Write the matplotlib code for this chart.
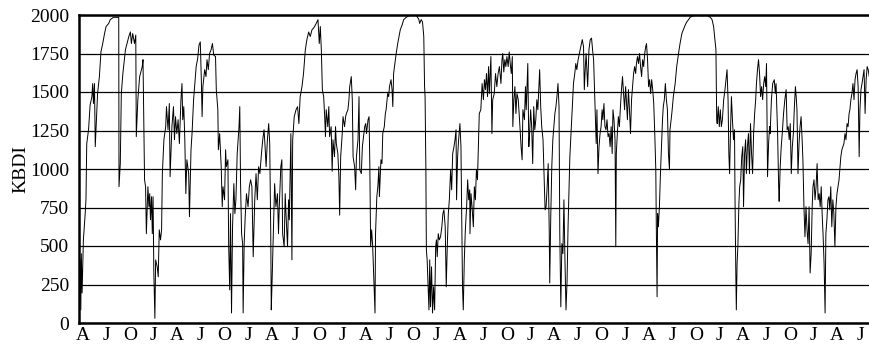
import matplotlib
matplotlib.use('Agg')
import matplotlib.pyplot as plt
import pandas as pd

# KBDI readings (day since start, index value)
start = pd.Timestamp('1998-03-17')
end_day = 3065

seg1 = [(4,410),(7,85),(9,450),(12,195),(17,540),(24,710),(27,800),(30,1165),(37,1255),(43,1415),
        (50,1470),(53,1555),(56,1425),(60,1555),(63,1145),(66,1255),(72,1490),(79,1600),(85,1760),(92,1815),
        (99,1880),(105,1925),(115,1945),(121,1970),(134,1985),(154,1985),(155,885),(160,1035),(164,1490),(170,1620),
        (180,1775),(186,1815),(193,1860),(199,1890),(203,1815),(208,1880),(215,1815),(220,1870),(222,1210),(228,1450),
        (235,1600),(245,1665),(248,1710),(254,930),(258,885),(261,580),(267,885),(271,755),(274,840),(277,670),
        (281,820),(284,580),(287,820),(290,325),(294,30),(297,410),(303,365),(307,300),(311,605),(316,540),
        (320,605),(323,970),(329,1190),(336,1275),(339,1405),(345,1255),(350,1425)]

seg2 = [(353,950),(360,1275),(366,1405),(370,1190),(374,1340),(379,1230),(384,1320),(389,1165),(395,1450),(399,1555),
        (402,1320),(406,1405),(410,1190),(414,840),(418,1060),(425,970),(428,690),(434,1125),(438,1230),(444,1450),
        (449,1555),(454,1665),(460,1720),(465,1805),(470,1825),(474,1580),(477,1340),(480,1535),(487,1645),(492,1600),
        (496,1710),(501,1645),(506,1750),(512,1775),(517,1815),(522,1740),(529,1730),(532,1515),(538,1385),(540,1125),
        (545,1230),(551,1015),(555,755),(558,885),(564,800),(568,1125),(571,1015),(577,1060),(580,495),(584,215),
        (587,710),(591,65),(595,625),(600,905),(604,710),(608,800),(613,1100),(620,1275),(623,1405),(626,905),
        (630,580),(634,515),(636,65),(640,515),(644,690),(649,840),(655,755),(660,885),(665,930),(670,885),
        (675,430),(681,800),(686,970),(691,800),(696,1015),(701,970),(707,1100),(712,1190),(717,1255),(721,1145),
        (725,1015),(730,1190),(735,1295),(739,1165)]

seg3 = [(743,580),(745,85),(748,260),(753,580),(758,905),(763,755),(769,840),(773,580),(776,755),(782,1015),
        (786,1060),(789,580),(795,495),(799,840),(802,710),(808,495),(812,800),(815,670),(821,1230),(825,410),
        (828,1190),(834,1340),(841,1385),(847,1405),(852,1295),(857,1470),(864,1535),(870,1620),(877,1775),(883,1840),
        (890,1890),(896,1860),(903,1905),(909,1915),(916,1935),(922,1955),(926,1970),(931,1815),(935,1925),(939,1775),
        (943,1515),(948,1470),(952,1340),(955,1210),(958,1385),(964,1275),(968,1405),(971,1210),(977,1275),(981,985),
        (984,1190),(990,1080),(994,1275),(997,1165),(1003,1100),(1007,950),(1010,700),(1014,1080),(1020,1230),(1023,1340),
        (1029,1275),(1033,1340),(1036,1360),(1042,1385),(1046,1450),(1049,1535),(1055,1600),(1059,1450),(1062,1080),(1068,1015),
        (1072,865),(1075,1080),(1081,1190),(1085,1470),(1088,995),(1094,970),(1098,1145),(1101,1190),(1107,1275),(1111,1295),
        (1114,1230),(1120,1320),(1124,1340),(1127,1015),(1130,495),(1134,605),(1138,495),(1143,260),(1147,65)]

seg4 = [(1149,580),(1154,820),(1158,885),(1162,1015),(1164,820),(1170,1060),(1174,1035),(1177,1230),(1183,1275),(1187,1360),
        (1190,1385),(1196,1490),(1200,1470),(1203,1535),(1209,1580),(1213,1515),(1216,1405),(1219,1620),(1224,1685),(1229,1750),
        (1235,1815),(1240,1860),(1245,1905),(1252,1935),(1258,1970),(1268,1985),(1278,1995),(1291,2000),(1304,2000),(1310,1990),
        (1317,1970),(1320,1945),(1326,1970),(1331,1955),(1336,1860),(1339,1535),(1341,1470),(1344,1015),(1346,475),(1349,410),
        (1353,235),(1356,85),(1359,410),(1362,105),(1366,365),(1370,65),(1374,235),(1378,85),(1382,495),(1385,540),
        (1388,430),(1392,580),(1396,540),(1401,560),(1406,625),(1410,710),(1414,735),(1419,625),(1423,235),(1427,495),
        (1431,710),(1435,800),(1440,995),(1444,865),(1448,1100),(1453,1145),(1457,1190),(1461,1255),(1463,800),(1467,1080),
        (1471,1190),(1476,1295),(1480,1145),(1486,235),(1489,85),(1493,410),(1497,605),(1502,755),(1506,930),(1510,800),
        (1514,865)]

seg5 = [(1515,580),(1519,840),(1523,755),(1528,625),(1532,885),(1536,800),(1540,995),(1544,930),(1548,1190),(1551,1360),
        (1557,1385),(1562,1555),(1567,1450),(1571,1580),(1575,1515),(1579,1620),(1583,1470),(1587,1665),(1590,1490),(1596,1730),
        (1600,1230),(1603,1450),(1609,1490),(1614,1620),(1619,1535),(1624,1620),(1629,1665),(1635,1555),(1639,1710),(1642,1750),
        (1646,1630),(1650,1710),(1654,1665),(1658,1730),(1663,1665),(1667,1760),(1671,1685),(1675,1620),(1679,1730),(1681,1275),
        (1685,1450),(1689,1535),(1693,1360),(1697,1490),(1702,1450),(1707,1320),(1713,1145),(1717,1060),(1720,1385),(1726,1320),
        (1730,1535),(1733,1385),(1739,1685),(1743,1145),(1746,1230),(1750,1385),(1754,1275),(1758,1035),(1762,1405),(1766,1255),
        (1770,1320),(1774,1450),(1778,1385),(1782,1535),(1785,1645),(1789,1405),(1793,1275),(1798,1190),(1802,970),(1806,735),
        (1810,755),(1814,885),(1818,1035),(1822,605),(1824,260),(1828,690),(1832,1015),(1836,1190),(1840,1275),(1844,1360),
        (1848,1405),(1852,1470),(1856,1555),(1860,1405),(1863,580),(1867,105),(1871,515),(1875,450),(1879,800),(1883,410),
        (1887,85),(1891,260),(1895,625),(1899,885),(1902,1080)]

seg6 = [(1907,1255),(1912,1425),(1916,1555),(1921,1620),(1925,1685),(1929,1645),(1934,1710),(1939,1750),(1945,1795),(1950,1840),
        (1955,1795),(1958,1515),(1962,1665),(1965,1750),(1971,1535),(1976,1775),(1981,1840),(1986,1850),(1990,1775),(1994,1710),
        (1998,1490),(2002,1275),(2004,1165),(2007,1385),(2011,970),(2015,1145),(2019,1230),(2023,1275),(2027,1385),(2030,1320),
        (2034,1425),(2038,1275),(2042,1255),(2046,1320),(2050,1210),(2054,1230),(2058,1145),(2062,1275),(2066,1100),(2069,1385),
        (2073,1320),(2077,1190),(2080,495),(2082,1100),(2086,1230),(2090,1340),(2094,1275),(2098,1405),(2102,1515),(2106,1600),
        (2110,1490),(2114,1385),(2118,1535),(2121,1450),(2125,1320),(2129,1515),(2133,1385),(2137,1230),(2141,1450),(2145,1535),
        (2149,1620),(2153,1665),(2157,1620),(2160,1685),(2164,1730),(2168,1685),(2172,1750),(2176,1665),(2180,1600),(2184,1710),
        (2188,1665),(2192,1750),(2196,1795),(2199,1815),(2203,1710),(2207,1535),(2211,1580),(2215,1490),(2219,1580),(2223,1515),
        (2227,1425),(2231,1230),(2235,995),(2237,625),(2240,170),(2242,710),(2245,625),(2249,755),(2253,970),(2257,1145),
        (2261,1320),(2264,1405),(2268,1450),(2272,1555),(2276,1450),(2280,1385),(2284,1100),(2288,995)]

seg7 = [(2290,1255),(2297,1360),(2303,1470),(2310,1555),(2316,1665),(2323,1750),(2329,1815),(2336,1880),(2342,1905),(2349,1935),
        (2355,1955),(2362,1970),(2368,1985),(2381,1995),(2394,2000),(2414,1995),(2427,2000),(2433,2000),(2440,1990),(2446,1985),
        (2453,1970),(2459,1925),(2464,1840),(2468,1775),(2471,1320),(2473,1295),(2477,1405),(2481,1275),(2485,1385),(2489,1275),
        (2493,1320),(2498,1450),(2503,1515),(2507,1580),(2511,1645),(2515,1450),(2518,1100),(2521,970),(2524,1210),(2528,1470),
        (2532,1320),(2536,1190),(2540,1255),(2542,800),(2545,325),(2547,85),(2550,390),(2553,495),(2557,775),(2560,885),
        (2564,930),(2568,1080),(2572,1145),(2575,755),(2579,1100),(2583,1190),(2586,970),(2590,1145),(2594,1230),(2598,970),
        (2602,1295),(2606,1100),(2610,970),(2614,1230),(2618,1360),(2622,1450),(2625,1555),(2629,1645),(2633,1710),(2637,1620),
        (2641,1470),(2645,1535),(2649,1450),(2653,1555),(2657,1600),(2661,1535),(2664,1685),(2668,950),(2672,1165),(2676,1275)]

seg8 = [(2678,1230),(2683,1450),(2688,1555),(2694,1580),(2698,1490),(2701,1555),(2707,1230),(2711,885),(2713,790),(2717,1015),
        (2721,1145),(2725,1230),(2730,1360),(2735,1450),(2740,1515),(2744,1255),(2748,1275),(2752,1190),(2756,1295),(2760,970),
        (2764,1145),(2768,1230),(2772,1405),(2776,1535),(2779,1470),(2782,1385),(2786,970),(2790,1165),(2794,1275),(2798,1340),
        (2802,1190),(2805,1060),(2809,755),(2813,560),(2817,755),(2821,605),(2825,515),(2829,755),(2833,325),(2837,450),
        (2841,755),(2844,885),(2848,930),(2852,800),(2856,885),(2860,1035),(2864,800),(2868,840),(2872,755),(2876,885),
        (2880,690),(2883,580),(2887,390),(2891,65),(2894,580),(2898,670),(2902,800),(2906,820),(2909,735),(2913,885),
        (2917,625),(2921,800),(2925,710),(2929,495),(2933,755),(2937,840),(2941,885),(2945,930),(2948,995),(2952,1080),
        (2956,1125),(2960,1145),(2964,1165),(2968,1230),(2972,1190),(2976,1295),(2980,1275),(2984,1360),(2987,1385),(2991,1450),
        (2995,1490),(2999,1555),(3003,1450),(3007,1580),(3011,1620),(3015,1645),(3019,1535),(3023,1080),(3026,1385),(3030,1515),
        (3034,1555),(3038,1600),(3042,1645),(3046,1360),(3050,1580),(3054,1665),(3058,1645),(3062,1600),(3065,1620)]

segments = [seg1, seg2, seg3, seg4, seg5, seg6, seg7, seg8]
days = [d for seg in segments for d, v in seg]
kbdi = [v for seg in segments for d, v in seg]

# quarter ticks: A J O J ...
ticks = pd.date_range('1998-04-01', start + pd.Timedelta(days=end_day), freq='QS-JAN')
tick_pos = [(t - start).days for t in ticks]
tick_lab = [t.strftime('%b')[0] for t in ticks]

plt.rcParams['font.family'] = ['Liberation Serif', 'DejaVu Serif']

fig = plt.figure(figsize=(8.7, 3.49), dpi=100)
ax = fig.add_axes([79/870, 26/349, 791/870, 308/349])

ax.plot(days, kbdi, color='black', lw=0.7)

ax.set_xlim(0, end_day)
ax.set_ylim(0, 2000)
ax.set_yticks(range(0, 2001, 250))
ax.set_xticks(tick_pos)
ax.set_xticklabels(tick_lab)
ax.grid(axis='y', color='black', lw=0.9)
ax.set_axisbelow(True)
ax.tick_params(axis='both', length=0, labelsize=14)
ax.tick_params(axis='y', pad=7)
ax.tick_params(axis='x', pad=3)

for s in ['top', 'left', 'bottom']:
    ax.spines[s].set_linewidth(1.8)
ax.spines['right'].set_visible(False)

ax.set_ylabel('KBDI', fontsize=14)
ax.yaxis.set_label_coords(-0.063, 0.5)

fig.savefig('out.png', dpi=100)
